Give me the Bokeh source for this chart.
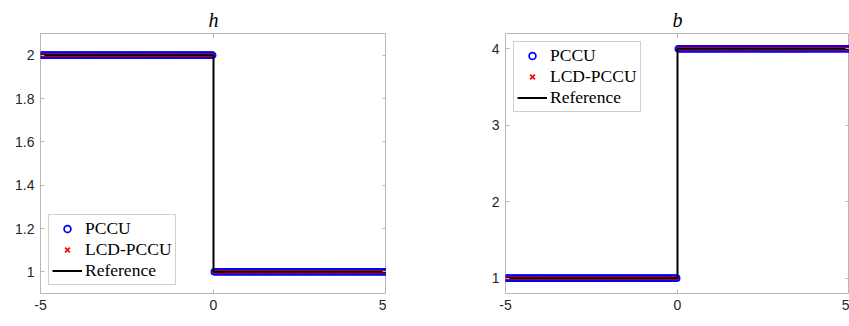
import numpy as np
from bokeh.plotting import figure
from bokeh.layouts import row
from bokeh.models import LinearAxis, Legend, LegendItem, Range1d, FixedTicker, Title
from bokeh.embed import file_html
from bokeh.resources import INLINE

# Grid of cell centres on [-5, 5]
n_cells = 200
x_min, x_max = -5.0, 5.0
dx = (x_max - x_min) / n_cells
x_cells = x_min + dx * (np.arange(n_cells) + 0.5)

# Riemann data: water depth h and bottom b, left/right states
h_left, h_right = 2.0, 1.0
b_left, b_right = 1.0, 4.0

h_pccu = np.where(x_cells < 0, h_left, h_right)
h_lcd = np.where(x_cells < 0, h_left, h_right)
b_pccu = np.where(x_cells < 0, b_left, b_right)
b_lcd = np.where(x_cells < 0, b_left, b_right)

x_ref = [x_min, 0.0, 0.0, x_max]
h_ref = [h_left, h_left, h_right, h_right]
b_ref = [b_left, b_left, b_right, b_right]

x_ticks = [-5, 0, 5]
x_tick_labels = {-5: "-5", 0: "0", 5: "5"}
h_ticks = [1, 1.2, 1.4, 1.6, 1.8, 2]
b_ticks = [1, 2, 3, 4]

AX_GREY = "#b8b8b8"
LABEL_GREY = "#262626"


def make_panel(title, y_pccu, y_lcd, y_ref, y_range, y_ticks, legend_loc,
               border_left, frame_w):
    p = figure(frame_width=frame_w, frame_height=260,
               x_range=Range1d(x_min, x_max), y_range=Range1d(*y_range),
               output_backend="svg", toolbar_location=None,
               min_border_left=border_left, min_border_right=0,
               min_border_top=33, min_border_bottom=33)
    p.title = Title(text=title, text_font="Liberation Serif",
                    text_font_style="italic", text_font_size="20px",
                    text_line_height=1.0,
                    align="center", text_color="black", standoff=6)
    p.grid.visible = False
    p.outline_line_color = AX_GREY
    p.outline_line_width = 1
    p.background_fill_color = "white"
    p.border_fill_color = "white"

    for ax, ticks in ((p.xaxis[0], x_ticks), (p.yaxis[0], y_ticks)):
        ax.ticker = FixedTicker(ticks=ticks)
        ax.axis_line_color = None
        ax.major_tick_in = 4
        ax.major_tick_out = 0
        ax.major_tick_line_color = AX_GREY
        ax.minor_tick_line_color = None
        ax.major_label_text_font = "Liberation Sans"
        ax.major_label_text_font_size = "14px"
        ax.major_label_text_color = LABEL_GREY
        ax.major_label_standoff = 6
    p.xaxis[0].major_label_overrides = x_tick_labels

    # tick marks on the opposite sides of the box, without labels
    for loc, ticks in (("right", y_ticks), ("above", x_ticks)):
        extra = LinearAxis(ticker=FixedTicker(ticks=ticks),
                           axis_line_color=None, major_tick_in=4,
                           major_tick_out=0, major_tick_line_color=AX_GREY,
                           minor_tick_line_color=None,
                           major_label_overrides={t: "" for t in ticks},
                           major_label_standoff=0)
        p.add_layout(extra, loc)

    r_pccu = p.scatter(x_cells, y_pccu, marker="circle", size=6,
                       fill_color=None, line_color="blue", line_width=1.7)
    r_lcd = p.scatter(x_cells, y_lcd, marker="x", size=4,
                      line_color="red", line_width=1.7)
    r_ref = p.line(x_ref, y_ref, line_color="black", line_width=2)

    legend = Legend(items=[LegendItem(label="PCCU", renderers=[r_pccu]),
                           LegendItem(label="LCD-PCCU", renderers=[r_lcd]),
                           LegendItem(label="Reference", renderers=[r_ref])],
                    location=legend_loc,
                    label_text_font="Liberation Serif",
                    label_text_font_size="17.5px",
                    label_text_line_height=1.0,
                    label_text_color="black",
                    label_height=17,
                    glyph_width=30, glyph_height=17,
                    label_standoff=3, spacing=0,
                    padding=3, margin=8,
                    border_line_color="#a0a0a0",
                    background_fill_alpha=1.0)
    p.add_layout(legend)
    return p


p_h = make_panel("h", h_pccu, h_lcd, h_ref, (0.9, 2.1), h_ticks,
                 "bottom_left", 40, 346)
p_b = make_panel("b", b_pccu, b_lcd, b_ref, (0.8, 4.2), b_ticks,
                 "top_left", 119, 344)

layout = row(p_h, p_b, spacing=0)

with open("out.html", "w") as f:
    f.write(file_html(layout, INLINE))
